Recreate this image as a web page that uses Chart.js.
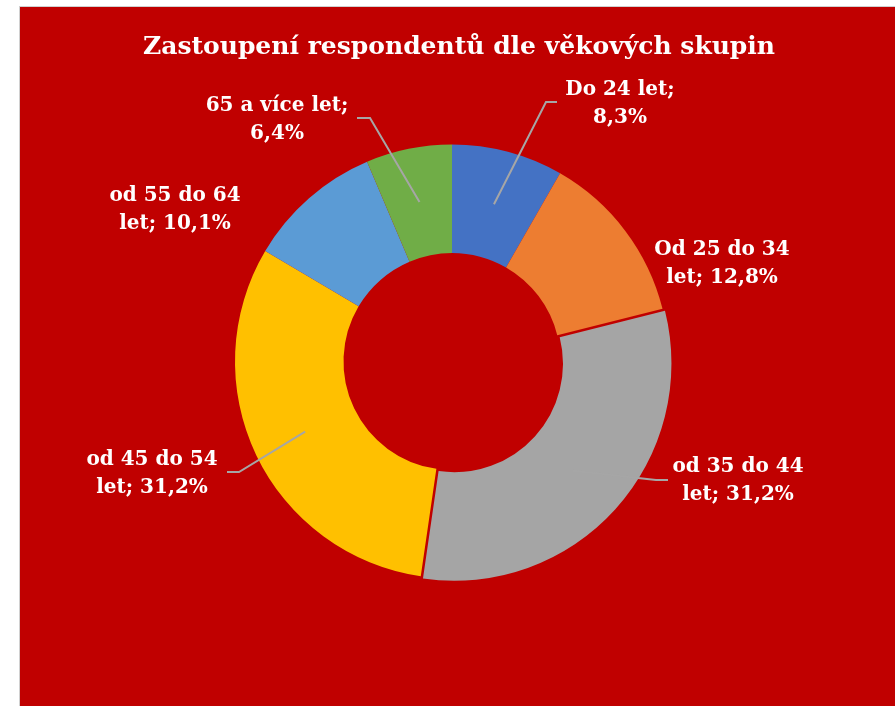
<!DOCTYPE html>
<html>
<head>
<meta charset="utf-8">
<script src="https://cdn.jsdelivr.net/npm/chart.js@4/dist/chart.umd.min.js"></script>
<style>
  html, body { margin: 0; padding: 0; background: #ffffff; overflow: hidden; }
  #frame { position: absolute; left: 19px; top: 6px; width: 900px; height: 720px;
           background: #C00000; border-left: 1px solid #D0D0D0; border-top: 1px solid #D0D0D0; }
  #c { position: absolute; left: 0; top: 0; }
</style>
</head>
<body>
<div id="frame"></div>
<canvas id="c" width="895" height="706"></canvas>
<script>
const chartTitle = "Zastoupení respondentů dle věkových skupin";
const categories = ["Do 24 let", "Od 25 do 34 let", "od 35 do 44 let", "od 45 do 54 let", "od 55 do 64 let", "65 a více let"];
const shares = [8.3, 12.8, 31.2, 31.2, 10.1, 6.4];
const labelLines = [
  ["Do 24 let;", "8,3%"],
  ["Od 25 do 34", "let; 12,8%"],
  ["od 35 do 44", "let; 31,2%"],
  ["od 45 do 54", "let; 31,2%"],
  ["od 55 do 64", "let; 10,1%"],
  ["65 a více let;", "6,4%"]
];
const sliceColors = ["#4472C4", "#ED7D31", "#A5A5A5", "#FFC000", "#5B9BD5", "#70AD47"];
const sliceOffsets = [0, 0, 12, 0, 0, 0];

// label placement relative to the doughnut centre (label centre), and leader elbow/end relative to label centre
const labelPos = [
  { dx: 168, dy: -257.5, leader: [[-74, -2], [-63, -2]] },
  { dx: 270, dy: -97.5, leader: null },
  { dx: 286, dy: 119.5, leader: [[-82, -1], [-70, -1]] },
  { dx: -300, dy: 112.5, leader: [[87, -2], [75, -2]] },
  { dx: -277, dy: -151.5, leader: null },
  { dx: -175, dy: -241.5, leader: [[93, -2], [80, -2]] }
];

const LABEL_FONT = "bold 20px 'DejaVu Serif'";
const TITLE_FONT = "bold 25px 'DejaVu Serif'";

const labelPlugin = {
  id: 'outsideLabels',
  afterDatasetsDraw(chart) {
    const ctx = chart.ctx;
    const meta = chart.getDatasetMeta(0);
    ctx.save();
    meta.data.forEach((arc, i) => {
      const p = arc.getProps(['x', 'y', 'startAngle', 'endAngle', 'innerRadius', 'outerRadius'], true);
      const mid = (p.startAngle + p.endAngle) / 2;
      const r = (p.innerRadius + p.outerRadius) / 2;
      const ax = p.x + Math.cos(mid) * r;
      const ay = p.y + Math.sin(mid) * r;
      const lp = labelPos[i];
      const lx = p.x + lp.dx, ly = p.y + lp.dy;
      if (lp.leader) {
        ctx.strokeStyle = '#A6A6A6';
        ctx.lineWidth = 2;
        ctx.beginPath();
        ctx.moveTo(ax, ay);
        lp.leader.forEach(pt => ctx.lineTo(lx + pt[0], ly + pt[1]));
        ctx.stroke();
      }
      ctx.fillStyle = '#FFFFFF';
      ctx.font = LABEL_FONT;
      ctx.textAlign = 'center';
      ctx.textBaseline = 'middle';
      const lines = labelLines[i];
      const lh = 28.5;
      lines.forEach((t, k) => {
        ctx.fillText(t, lx, ly + (k - (lines.length - 1) / 2) * lh);
      });
    });
    ctx.font = TITLE_FONT;
    ctx.fillStyle = '#FFFFFF';
    ctx.textAlign = 'center';
    ctx.textBaseline = 'middle';
    ctx.fillText(chartTitle, 459, 47);
    ctx.restore();
  }
};

new Chart(document.getElementById('c'), {
  type: 'doughnut',
  data: {
    labels: categories,
    datasets: [{
      data: shares,
      backgroundColor: sliceColors,
      borderWidth: 0,
      offset: sliceOffsets
    }]
  },
  options: {
    responsive: false,
    animation: false,
    cutout: '50%',
    layout: { padding: { left: 229, right: 220, top: 138.5, bottom: 121.5 } },
    plugins: {
      legend: { display: false },
      title: { display: false },
      tooltip: { enabled: false }
    }
  },
  plugins: [labelPlugin]
});
</script>
</body>
</html>
